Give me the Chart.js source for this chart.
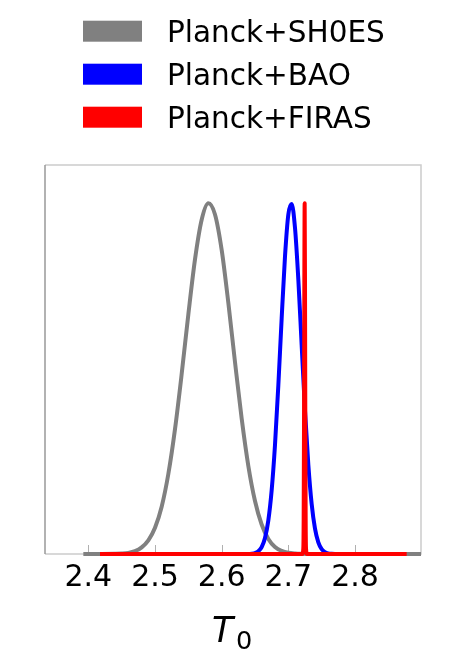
<!DOCTYPE html>
<html>
<head>
<meta charset="utf-8">
<script src="https://cdn.jsdelivr.net/npm/chart.js@4.4.1/dist/chart.umd.min.js"></script>
<style>
  body { margin: 0; background: #fff; }
  canvas { display: block; }
</style>
</head>
<body>
<canvas id="t0Chart" width="454" height="661"></canvas>
<script>
const tickValues = [2.4, 2.5, 2.6, 2.7, 2.8];

// Planck+SH0ES posterior (normalised to peak 1)
const shoesX = [2.3925, 2.42, 2.44, 2.45, 2.46, 2.47, 2.48, 2.49, 2.50,
  2.51, 2.52, 2.53, 2.54, 2.55, 2.56, 2.57, 2.58, 2.59, 2.60, 2.61,
  2.62, 2.63, 2.64, 2.65, 2.66, 2.67, 2.68, 2.69, 2.70, 2.71, 2.72, 2.74, 2.899];
const shoesY = [0, 0, 0.0004, 0.0011, 0.003, 0.008, 0.019, 0.039, 0.075,
  0.135, 0.228, 0.356, 0.513, 0.683, 0.84, 0.953, 1.0, 0.968, 0.867, 0.716,
  0.547, 0.386, 0.251, 0.151, 0.084, 0.043, 0.02, 0.009, 0.0036, 0.0014, 0.0005, 0, 0];

// Planck+BAO
const baoX = [2.60, 2.64, 2.645, 2.65, 2.655, 2.66, 2.665, 2.67, 2.675, 2.68, 2.685,
  2.69, 2.695, 2.70, 2.705, 2.71, 2.715, 2.72, 2.725, 2.73, 2.735,
  2.74, 2.745, 2.75, 2.755, 2.76, 2.765, 2.77, 2.80];
const baoY = [0, 0.0003, 0.0009, 0.0027, 0.0077, 0.0197, 0.0457, 0.0958, 0.1816, 0.3109, 0.4808,
  0.672, 0.8485, 0.968, 0.998, 0.9296, 0.7824, 0.595, 0.4088, 0.2538, 0.1424,
  0.0722, 0.033, 0.0137, 0.0051, 0.0017, 0.0005, 0.0001, 0];

// Planck+FIRAS
const firasX = [2.4175, 2.715, 2.721, 2.7225, 2.723, 2.7235, 2.724, 2.7245,
  2.725, 2.7255, 2.726, 2.7265, 2.728, 2.734, 2.8775];
const firasY = [0, 0, 0, 0.017, 0.10, 0.36, 0.775, 1.0,
  0.775, 0.36, 0.10, 0.017, 0, 0, 0];

const toPoints = (xs, ys) => xs.map((x, i) => ({x: x, y: ys[i]}));

// frame around the plot and small inward ticks on the bottom
const framePlugin = {
  id: 'frame',
  beforeDatasetsDraw(chart) {
    const {ctx, chartArea: a, scales} = chart;
    ctx.save();
    ctx.lineWidth = 1.5;
    ctx.strokeStyle = '#cccccc';
    ctx.beginPath();
    ctx.moveTo(a.left, a.top); ctx.lineTo(a.right, a.top);
    ctx.lineTo(a.right, a.bottom); ctx.lineTo(a.left, a.bottom);
    ctx.stroke();
    ctx.strokeStyle = '#999999';
    ctx.beginPath();
    ctx.moveTo(a.left, a.top); ctx.lineTo(a.left, a.bottom);
    ctx.stroke();
    ctx.lineWidth = 1;
    ctx.strokeStyle = '#b0b0b0';
    scales.x.ticks.forEach(t => {
      const px = Math.round(scales.x.getPixelForValue(t.value)) + 0.5;
      ctx.beginPath();
      ctx.moveTo(px, a.bottom);
      ctx.lineTo(px, a.bottom - 9);
      ctx.stroke();
    });
    ctx.restore();
  }
};

const legendPlugin = {
  id: 'boxLegend',
  afterDraw(chart) {
    const ctx = chart.ctx;
    ctx.save();
    ctx.font = '29.5px "DejaVu Sans"';
    ctx.textBaseline = 'alphabetic';
    chart.data.datasets.forEach((ds, i) => {
      ctx.fillStyle = ds.borderColor;
      ctx.fillRect(83, 20.7 + 43 * i, 59, 21);
      ctx.fillStyle = '#000';
      ctx.fillText(ds.label, 167, 42 + 43 * i);
    });
    ctx.restore();
  }
};

const axisTitlePlugin = {
  id: 'axisTitle',
  afterDraw(chart) {
    const {ctx, chartArea: a} = chart;
    const cx = (a.left + a.right) / 2;
    ctx.save();
    ctx.fillStyle = '#000';
    ctx.textBaseline = 'alphabetic';
    ctx.font = 'italic 34.7px "DejaVu Sans"';
    ctx.fillText('T', cx - 21, a.bottom + 88.3);
    ctx.font = '25.6px "DejaVu Sans"';
    ctx.fillText('0', cx + 3, a.bottom + 95);
    ctx.restore();
  }
};

new Chart(document.getElementById('t0Chart'), {
  type: 'line',
  data: {
    datasets: [
      {label: 'Planck+SH0ES', data: toPoints(shoesX, shoesY), borderColor: '#808080', order: 3},
      {label: 'Planck+BAO', data: toPoints(baoX, baoY), borderColor: '#0000ff', order: 2},
      {label: 'Planck+FIRAS', data: toPoints(firasX, firasY), borderColor: '#ff0000', order: 1}
    ]
  },
  options: {
    responsive: false,
    animation: false,
    clip: false,
    layout: {
      padding: {left: 45, right: 33, top: 165, bottom: 59}
    },
    plugins: {
      legend: {display: false},
      tooltip: {enabled: false}
    },
    elements: {
      point: {radius: 0},
      line: {
        borderWidth: 4,
        cubicInterpolationMode: 'monotone',
        borderJoinStyle: 'round',
        fill: false
      }
    },
    scales: {
      x: {
        type: 'linear',
        min: 2.335,
        max: 2.899,
        afterBuildTicks: scale => {
          scale.ticks = tickValues.map(v => ({value: v}));
        },
        grid: {display: false, drawTicks: false},
        border: {display: false},
        ticks: {
          color: '#000',
          padding: 6,
          maxRotation: 0,
          autoSkip: false,
          font: {family: 'DejaVu Sans', size: 30},
          callback: v => v.toFixed(1)
        }
      },
      y: {
        display: false,
        min: 0,
        max: 1.109
      }
    }
  },
  plugins: [framePlugin, legendPlugin, axisTitlePlugin]
});
</script>
</body>
</html>
